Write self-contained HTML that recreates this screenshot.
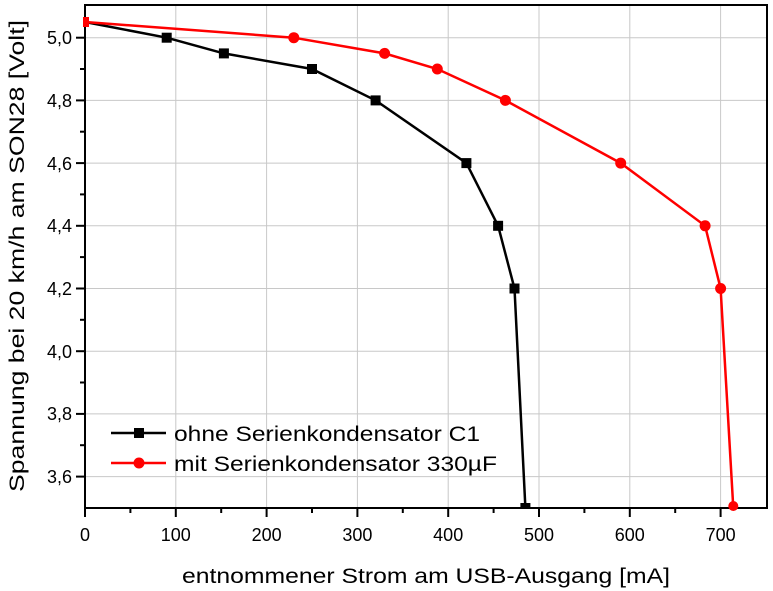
<!DOCTYPE html>
<html><head><meta charset="utf-8"><style>body{margin:0;background:#fff}svg{display:block}text{font-family:"Liberation Sans",sans-serif;fill:#000}</style></head>
<body>
<svg width="773" height="591" viewBox="0 0 773 591" xmlns="http://www.w3.org/2000/svg">
<g stroke="#c8c8c8" stroke-width="1">
<line x1="175.8" y1="5" x2="175.8" y2="508"/><line x1="266.6" y1="5" x2="266.6" y2="508"/><line x1="357.4" y1="5" x2="357.4" y2="508"/><line x1="448.2" y1="5" x2="448.2" y2="508"/><line x1="539" y1="5" x2="539" y2="508"/><line x1="629.8" y1="5" x2="629.8" y2="508"/><line x1="720.6" y1="5" x2="720.6" y2="508"/>
<line x1="85" y1="37.7" x2="767" y2="37.7"/><line x1="85" y1="100.4" x2="767" y2="100.4"/><line x1="85" y1="163.1" x2="767" y2="163.1"/><line x1="85" y1="225.8" x2="767" y2="225.8"/><line x1="85" y1="288.5" x2="767" y2="288.5"/><line x1="85" y1="351.2" x2="767" y2="351.2"/><line x1="85" y1="413.9" x2="767" y2="413.9"/><line x1="85" y1="476.6" x2="767" y2="476.6"/>
</g>
<rect x="85" y="5" width="682" height="503" fill="none" stroke="#000" stroke-width="2"/>
<g stroke="#000" stroke-width="2">
<line x1="85" y1="508" x2="85" y2="517"/><line x1="175.8" y1="508" x2="175.8" y2="517"/><line x1="266.6" y1="508" x2="266.6" y2="517"/><line x1="357.4" y1="508" x2="357.4" y2="517"/><line x1="448.2" y1="508" x2="448.2" y2="517"/><line x1="539" y1="508" x2="539" y2="517"/><line x1="629.8" y1="508" x2="629.8" y2="517"/><line x1="720.6" y1="508" x2="720.6" y2="517"/>
<line x1="130.4" y1="508" x2="130.4" y2="513"/><line x1="221.2" y1="508" x2="221.2" y2="513"/><line x1="312" y1="508" x2="312" y2="513"/><line x1="402.8" y1="508" x2="402.8" y2="513"/><line x1="493.6" y1="508" x2="493.6" y2="513"/><line x1="584.4" y1="508" x2="584.4" y2="513"/><line x1="675.2" y1="508" x2="675.2" y2="513"/>
<line x1="76" y1="37.7" x2="85" y2="37.7"/><line x1="76" y1="100.4" x2="85" y2="100.4"/><line x1="76" y1="163.1" x2="85" y2="163.1"/><line x1="76" y1="225.8" x2="85" y2="225.8"/><line x1="76" y1="288.5" x2="85" y2="288.5"/><line x1="76" y1="351.2" x2="85" y2="351.2"/><line x1="76" y1="413.9" x2="85" y2="413.9"/><line x1="76" y1="476.6" x2="85" y2="476.6"/>
<line x1="80" y1="69" x2="85" y2="69"/><line x1="80" y1="131.7" x2="85" y2="131.7"/><line x1="80" y1="194.4" x2="85" y2="194.4"/><line x1="80" y1="257.1" x2="85" y2="257.1"/><line x1="80" y1="319.8" x2="85" y2="319.8"/><line x1="80" y1="382.5" x2="85" y2="382.5"/><line x1="80" y1="445.2" x2="85" y2="445.2"/>
</g>
<g font-size="18" text-anchor="middle">
<text x="85" y="541">0</text><text x="175.8" y="541">100</text><text x="266.6" y="541">200</text><text x="357.4" y="541">300</text><text x="448.2" y="541">400</text><text x="539" y="541">500</text><text x="629.8" y="541">600</text><text x="720.6" y="541">700</text>
</g>
<g font-size="18" text-anchor="end">
<text x="72" y="44">5,0</text><text x="72" y="107">4,8</text><text x="72" y="170">4,6</text><text x="72" y="232">4,4</text><text x="72" y="295">4,2</text><text x="72" y="358">4,0</text><text x="72" y="420">3,8</text><text x="72" y="483">3,6</text>
</g>
<text x="182" y="583" font-size="21" textLength="488" lengthAdjust="spacingAndGlyphs">entnommener Strom am USB-Ausgang [mA]</text>
<text transform="translate(24,492) rotate(-90)" font-size="21" textLength="472" lengthAdjust="spacingAndGlyphs">Spannung bei 20 km/h am SON28 [Volt]</text>
<polyline fill="none" stroke="#000" stroke-width="2.5" points="85,22 166.7,37.7 223.9,53.4 312,69 375.6,100.4 466.4,163.1 498.1,225.8 514.5,288.5 525.4,508"/>
<g fill="#000">
<rect x="161.7" y="32.7" width="10" height="10"/><rect x="218.9" y="48.4" width="10" height="10"/><rect x="307" y="64" width="10" height="10"/><rect x="370.6" y="95.4" width="10" height="10"/><rect x="461.4" y="158.1" width="10" height="10"/><rect x="493.1" y="220.8" width="10" height="10"/><rect x="509.5" y="283.5" width="10" height="10"/><rect x="520.4" y="503" width="10" height="6"/>
</g>
<polyline fill="none" stroke="#f00" stroke-width="2.5" points="85,22 293.8,37.7 384.6,53.4 437.3,69 505.4,100.4 620.7,163.1 705.1,225.8 720.6,288.5 733.3,508"/>
<g fill="#f00">
<rect x="83" y="17" width="6" height="10"/>
<circle cx="293.8" cy="37.7" r="5.5"/><circle cx="384.6" cy="53.4" r="5.5"/><circle cx="437.3" cy="69" r="5.5"/><circle cx="505.4" cy="100.4" r="5.5"/><circle cx="620.7" cy="163.1" r="5.5"/><circle cx="705.1" cy="225.8" r="5.5"/><circle cx="720.6" cy="288.5" r="5.5"/><circle cx="733.3" cy="506" r="5"/>
</g>
<line x1="111" y1="433" x2="166" y2="433" stroke="#000" stroke-width="2.5"/>
<rect x="134" y="428" width="10" height="10" fill="#000"/>
<line x1="111" y1="463" x2="166" y2="463" stroke="#f00" stroke-width="2.5"/>
<circle cx="139" cy="463" r="5.5" fill="#f00"/>
<text x="174" y="441" font-size="21" textLength="306" lengthAdjust="spacingAndGlyphs">ohne Serienkondensator C1</text>
<text x="174" y="471" font-size="21" textLength="323" lengthAdjust="spacingAndGlyphs">mit Serienkondensator 330µF</text>
</svg>
</body></html>
